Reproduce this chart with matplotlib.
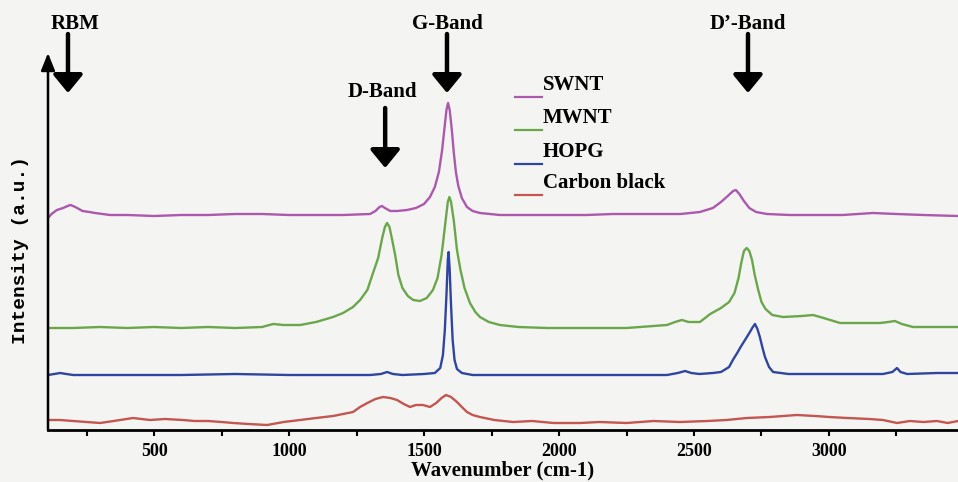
import matplotlib
matplotlib.use("Agg")
import matplotlib.pyplot as plt
from matplotlib.lines import Line2D

# ---- data (intensity in arbitrary units) ----
swnt_w = [107, 120, 140, 163, 180, 190, 200, 215, 235, 260, 281, 337, 400, 500, 600, 700,
          800, 900, 1000, 1100, 1200, 1300, 1320, 1335, 1344, 1355, 1375, 1400, 1437, 1470,
          1500, 1522, 1540, 1555, 1567, 1575, 1583, 1589, 1595, 1603, 1610, 1618, 1627, 1640,
          1659, 1680, 1707, 1781, 1900, 2000, 2100, 2200, 2300, 2400, 2450, 2522, 2570, 2600,
          2625, 2645, 2655, 2668, 2685, 2705, 2730, 2770, 2856, 2950, 3050, 3163, 3250, 3350,
          3478]
swnt_i = [212, 216, 220, 222, 224, 225, 224, 222, 219, 218, 217, 215, 215, 214, 215, 215,
          216, 216, 215, 215, 215, 216, 219, 223, 224, 222, 219, 219, 220, 222,
          226, 233, 243, 258, 280, 300, 320, 327, 320, 300, 278, 258, 244, 232,
          223, 219, 217, 215, 215, 215, 215, 216, 216, 216, 216, 218, 222, 228,
          234, 239, 240, 236, 229, 222, 218, 216, 215, 215, 215, 217, 216, 215,
          214]

mwnt_w = [107, 200, 300, 400, 500, 600, 700, 800, 900, 941, 980, 1041, 1100, 1163, 1200,
          1237, 1263, 1290, 1311, 1330, 1345, 1355, 1363, 1372, 1382, 1393, 1405, 1420, 1440,
          1460, 1485, 1510, 1533, 1550, 1565, 1578, 1588, 1594, 1600, 1610, 1622, 1635, 1650,
          1670, 1690, 1707, 1740, 1781, 1850, 1956, 2050, 2150, 2250, 2350, 2400, 2430, 2455,
          2480, 2522, 2560, 2600, 2630, 2650, 2665, 2675, 2685, 2695, 2705, 2715, 2725, 2738,
          2750, 2765, 2790, 2830, 2900, 2941, 2980, 3041, 3100, 3189, 3220, 3244, 3270, 3311,
          3400, 3478]
mwnt_i = [102, 102, 103, 102, 103, 102, 103, 102, 103, 106, 105, 105, 108, 113, 117,
          123, 130, 140, 157, 172, 192, 203, 207, 203, 190, 175, 155, 142, 134,
          130, 129, 132, 140, 152, 175, 205, 228, 233, 228, 210, 180, 160, 142,
          127, 118, 113, 108, 105, 103, 102, 102, 102, 102, 104, 105, 108, 110,
          108, 108, 116, 122, 128, 137, 152, 167, 179, 182, 179, 170, 155, 140,
          128, 121, 115, 113, 114, 115, 112, 107, 107, 107, 108, 109, 106, 103,
          103, 103]

hopg_w = [107, 130, 152, 175, 200, 400, 600, 800, 1000, 1200, 1300, 1340, 1363, 1385, 1420,
          1500, 1540, 1560, 1570, 1577, 1583, 1588, 1591, 1595, 1600, 1606, 1613, 1622, 1640,
          1680, 1800, 2000, 2200, 2400, 2440, 2467, 2490, 2520, 2570, 2600, 2630, 2644, 2660,
          2675, 2689, 2705, 2718, 2726, 2735, 2744, 2753, 2763, 2778, 2793, 2850, 3000, 3200,
          3235, 3252, 3265, 3290, 3400, 3478]
hopg_i = [55, 56, 57, 56, 55, 55, 55, 56, 55, 55, 55, 56, 58, 56, 55,
          56, 57, 62, 75, 100, 135, 170, 178, 160, 125, 90, 70, 61, 57,
          55, 55, 55, 55, 55, 57, 59, 57, 56, 57, 58, 63, 70, 77,
          84, 90, 97, 103, 106, 101, 93, 83, 73, 63, 58, 56, 56, 56,
          58, 62, 58, 56, 57, 57]

cb_w = [107, 150, 200, 250, 300, 350, 422, 485, 540, 607, 650, 700, 750, 793, 850,
        919, 980, 1041, 1100, 1163, 1200, 1237, 1263, 1290, 1320, 1348, 1375, 1400, 1425,
        1448, 1470, 1496, 1522, 1545, 1565, 1581, 1600, 1622, 1640, 1659, 1680, 1707, 1760,
        1830, 1900, 1980, 2078, 2150, 2250, 2350, 2448, 2550, 2620, 2696, 2780, 2881, 2950,
        3000, 3067, 3150, 3200, 3252, 3300, 3350, 3400, 3440, 3478]
cb_i = [10, 10, 9, 8, 7, 9, 12, 10, 11, 10, 9, 9, 8, 7, 6,
        5, 8, 10, 12, 14, 16, 18, 23, 27, 31, 33, 32, 30, 26,
        23, 25, 25, 23, 27, 32, 35, 33, 28, 23, 18, 15, 13, 10,
        8, 9, 7, 7, 8, 7, 9, 8, 9, 10, 12, 13, 15, 14,
        13, 12, 11, 10, 7, 9, 8, 9, 7, 9]

series = [("SWNT", swnt_w, swnt_i, "#ac58ac"),
          ("MWNT", mwnt_w, mwnt_i, "#6aa64a"),
          ("HOPG", hopg_w, hopg_i, "#2f45a0"),
          ("Carbon black", cb_w, cb_i, "#c4554f")]

xticks = [500, 1000, 1500, 2000, 2500, 3000]
minor_ticks = [250, 750, 1250, 1750, 2250, 2750, 3250]

bands = [("RBM", 181, 207), ("G-Band", 1585, 1585), ("D’-Band", 2700, 2700)]
dband = ("D-Band", 1356, 1345)

# ---- figure ----
bg = "#f4f5f3"
W, H = 958, 482
fig = plt.figure(figsize=(W / 100, H / 100), dpi=100, facecolor=bg)
ax = fig.add_axes([48 / W, 52 / H, 910 / W, 377 / H])
ax.set_facecolor(bg)
ax.set_xlim(107, 3478)
ax.set_ylim(0, 377)

serif = "Liberation Serif"
for name, w, i, c in series:
    ax.plot(w, i, color=c, lw=1.7, solid_joinstyle="round", solid_capstyle="round")

# axes styling
for s in ["top", "right", "left"]:
    ax.spines[s].set_visible(False)
ax.spines["bottom"].set_linewidth(2.0)
ax.set_yticks([])
ax.set_xticks(xticks)
ax.set_xticks(minor_ticks, minor=True)
ax.tick_params(axis="x", which="both", direction="out", length=4, width=1.5, pad=5)
ax.set_xticklabels([str(t) for t in xticks], fontfamily=serif, fontweight="bold", fontsize=13)

ax.set_xlabel("Wavenumber (cm-1)", fontfamily=serif, fontweight="bold", fontsize=15, labelpad=1)
ax.set_ylabel("Intensity (a.u.)", fontfamily="Liberation Mono", fontweight="bold", fontsize=14)
ax.yaxis.set_label_coords(-0.0205, 0.477)

# y axis as arrow
ax.annotate("", xy=(0, 1.0), xytext=(0, 0), xycoords="axes fraction",
            arrowprops=dict(arrowstyle="-|>,head_width=0.3,head_length=0.75", lw=1.8,
                            color="black", mutation_scale=14, shrinkA=0, shrinkB=0),
            annotation_clip=False)

# band annotations
arrow_kw = dict(arrowstyle="-|>,head_width=0.45,head_length=0.55", lw=3.2, color="black",
                mutation_scale=20, shrinkA=0, shrinkB=0)
for label, xa, xt in bands:
    ax.text(xt, 406, label, ha="center", va="center", fontfamily=serif, fontweight="bold",
            fontsize=15, clip_on=False)
    ax.annotate("", xy=(xa, 337), xytext=(xa, 396), arrowprops=arrow_kw, annotation_clip=False)
label, xa, xt = dband
ax.text(xt, 338, label, ha="center", va="center", fontfamily=serif, fontweight="bold",
        fontsize=15, clip_on=False)
ax.annotate("", xy=(xa, 262), xytext=(xa, 322), arrowprops=arrow_kw, annotation_clip=False)

# legend drawn manually (line below-left of label)
leg_y = [85, 118, 152, 183]
for (name, w, i, c), yy in zip(series, leg_y):
    ypx = H - yy
    fig.add_artist(Line2D([515 / W, 542 / W], [(ypx - 12) / H, (ypx - 12) / H], color=c, lw=1.6))
    fig.text(543 / W, ypx / H, name, ha="left", va="center", fontfamily=serif,
             fontweight="bold", fontsize=15)

fig.savefig("out.png", dpi=100, facecolor=bg)
